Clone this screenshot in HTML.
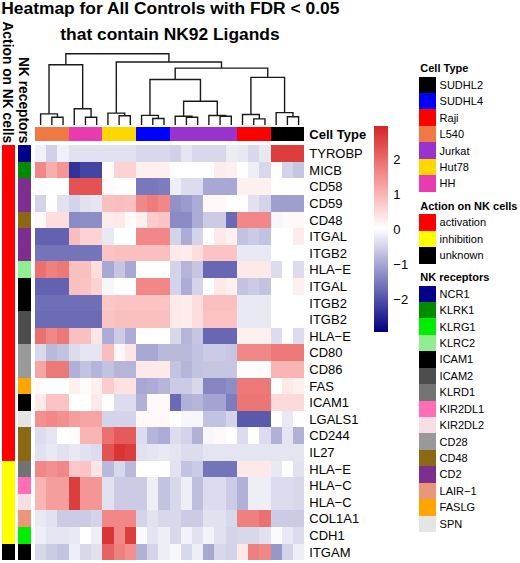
<!DOCTYPE html>
<html><head><meta charset="utf-8"><style>
html,body{margin:0;padding:0;background:#fff;}
svg{display:block;}
text{font-family:"Liberation Sans",sans-serif;fill:#000;}
.rl{font-size:13px;}
.ctl{font-size:13px;font-weight:bold;}
.cbl{font-size:13px;}
.lt{font-size:11px;font-weight:bold;}
.ll{font-size:11px;}
.tt{font-size:17.4px;font-weight:bold;}
.an{font-size:13.8px;font-weight:bold;}
</style></head><body>
<svg width="520" height="563" viewBox="0 0 520 563">
<rect width="520" height="563" fill="#fff"/>
<style>rect{shape-rendering:crispEdges;}</style>
<rect x="35.00" y="145.30" width="12.22" height="17.60" fill="#f0f0f8"/>
<rect x="46.22" y="145.30" width="12.22" height="17.60" fill="#d0d0e8"/>
<rect x="57.43" y="145.30" width="12.22" height="17.60" fill="#f0f0f8"/>
<rect x="68.65" y="145.30" width="12.22" height="17.60" fill="#e1e1f0"/>
<rect x="79.87" y="145.30" width="12.22" height="17.60" fill="#e1e1f0"/>
<rect x="91.08" y="145.30" width="12.22" height="17.60" fill="#e1e1f0"/>
<rect x="102.30" y="145.30" width="12.22" height="17.60" fill="#e1e1f0"/>
<rect x="113.52" y="145.30" width="12.22" height="17.60" fill="#e1e1f0"/>
<rect x="124.73" y="145.30" width="12.22" height="17.60" fill="#e1e1f0"/>
<rect x="135.95" y="145.30" width="12.22" height="17.60" fill="#d8d8eb"/>
<rect x="147.17" y="145.30" width="12.22" height="17.60" fill="#d8d8eb"/>
<rect x="158.38" y="145.30" width="12.22" height="17.60" fill="#d8d8eb"/>
<rect x="169.60" y="145.30" width="12.22" height="17.60" fill="#d0d0e8"/>
<rect x="180.82" y="145.30" width="12.22" height="17.60" fill="#e5e5f2"/>
<rect x="192.03" y="145.30" width="12.22" height="17.60" fill="#d8d8eb"/>
<rect x="203.25" y="145.30" width="12.22" height="17.60" fill="#d8d8eb"/>
<rect x="214.47" y="145.30" width="12.22" height="17.60" fill="#d8d8eb"/>
<rect x="225.68" y="145.30" width="12.22" height="17.60" fill="#ececf5"/>
<rect x="236.90" y="145.30" width="12.22" height="17.60" fill="#e8e8f3"/>
<rect x="248.12" y="145.30" width="12.22" height="17.60" fill="#d8d8eb"/>
<rect x="259.33" y="145.30" width="12.22" height="17.60" fill="#e8e8f3"/>
<rect x="270.55" y="145.30" width="12.22" height="17.60" fill="#dc3d3d"/>
<rect x="281.77" y="145.30" width="12.22" height="17.60" fill="#dc3d3d"/>
<rect x="292.98" y="145.30" width="11.22" height="17.60" fill="#dc3d3d"/>
<rect x="35.00" y="161.90" width="12.22" height="17.60" fill="#f18787"/>
<rect x="46.22" y="161.90" width="12.22" height="17.60" fill="#f8adad"/>
<rect x="57.43" y="161.90" width="12.22" height="17.60" fill="#f49696"/>
<rect x="68.65" y="161.90" width="12.22" height="17.60" fill="#323299"/>
<rect x="79.87" y="161.90" width="12.22" height="17.60" fill="#4444a2"/>
<rect x="91.08" y="161.90" width="12.22" height="17.60" fill="#4444a2"/>
<rect x="102.30" y="161.90" width="12.22" height="17.60" fill="#fffbfb"/>
<rect x="113.52" y="161.90" width="12.22" height="17.60" fill="#fdd2d2"/>
<rect x="124.73" y="161.90" width="12.22" height="17.60" fill="#fdd2d2"/>
<rect x="135.95" y="161.90" width="12.22" height="17.60" fill="#fff0f0"/>
<rect x="147.17" y="161.90" width="12.22" height="17.60" fill="#fff0f0"/>
<rect x="158.38" y="161.90" width="12.22" height="17.60" fill="#fff0f0"/>
<rect x="169.60" y="161.90" width="12.22" height="17.60" fill="#ffffff"/>
<rect x="180.82" y="161.90" width="12.22" height="17.60" fill="#ffffff"/>
<rect x="192.03" y="161.90" width="12.22" height="17.60" fill="#ffffff"/>
<rect x="203.25" y="161.90" width="12.22" height="17.60" fill="#ffffff"/>
<rect x="214.47" y="161.90" width="12.22" height="17.60" fill="#feecec"/>
<rect x="225.68" y="161.90" width="12.22" height="17.60" fill="#fff0f0"/>
<rect x="236.90" y="161.90" width="12.22" height="17.60" fill="#ffffff"/>
<rect x="248.12" y="161.90" width="12.22" height="17.60" fill="#eeeef6"/>
<rect x="259.33" y="161.90" width="12.22" height="17.60" fill="#d8d8eb"/>
<rect x="270.55" y="161.90" width="12.22" height="17.60" fill="#ffffff"/>
<rect x="281.77" y="161.90" width="12.22" height="17.60" fill="#d3d3e9"/>
<rect x="292.98" y="161.90" width="11.22" height="17.60" fill="#c6c6e3"/>
<rect x="35.00" y="178.49" width="12.22" height="17.60" fill="#ffffff"/>
<rect x="46.22" y="178.49" width="12.22" height="17.60" fill="#ffffff"/>
<rect x="57.43" y="178.49" width="12.22" height="17.60" fill="#ffffff"/>
<rect x="68.65" y="178.49" width="12.22" height="17.60" fill="#e35353"/>
<rect x="79.87" y="178.49" width="12.22" height="17.60" fill="#e35353"/>
<rect x="91.08" y="178.49" width="12.22" height="17.60" fill="#e35353"/>
<rect x="102.30" y="178.49" width="12.22" height="17.60" fill="#fffbfb"/>
<rect x="113.52" y="178.49" width="12.22" height="17.60" fill="#ffffff"/>
<rect x="124.73" y="178.49" width="12.22" height="17.60" fill="#ffffff"/>
<rect x="135.95" y="178.49" width="12.22" height="17.60" fill="#7878bc"/>
<rect x="147.17" y="178.49" width="12.22" height="17.60" fill="#7878bc"/>
<rect x="158.38" y="178.49" width="12.22" height="17.60" fill="#7c7cbe"/>
<rect x="169.60" y="178.49" width="12.22" height="17.60" fill="#eeeef6"/>
<rect x="180.82" y="178.49" width="12.22" height="17.60" fill="#dcdcee"/>
<rect x="192.03" y="178.49" width="12.22" height="17.60" fill="#dcdcee"/>
<rect x="203.25" y="178.49" width="12.22" height="17.60" fill="#a8a8d4"/>
<rect x="214.47" y="178.49" width="12.22" height="17.60" fill="#a8a8d4"/>
<rect x="225.68" y="178.49" width="12.22" height="17.60" fill="#a8a8d4"/>
<rect x="236.90" y="178.49" width="12.22" height="17.60" fill="#fff0f0"/>
<rect x="248.12" y="178.49" width="12.22" height="17.60" fill="#fff0f0"/>
<rect x="259.33" y="178.49" width="12.22" height="17.60" fill="#fff0f0"/>
<rect x="270.55" y="178.49" width="12.22" height="17.60" fill="#ffffff"/>
<rect x="281.77" y="178.49" width="12.22" height="17.60" fill="#ffffff"/>
<rect x="292.98" y="178.49" width="11.22" height="17.60" fill="#ffffff"/>
<rect x="35.00" y="195.09" width="12.22" height="17.60" fill="#d3d3e9"/>
<rect x="46.22" y="195.09" width="12.22" height="17.60" fill="#ffffff"/>
<rect x="57.43" y="195.09" width="12.22" height="17.60" fill="#e1e1f0"/>
<rect x="68.65" y="195.09" width="12.22" height="17.60" fill="#d3d3e9"/>
<rect x="79.87" y="195.09" width="12.22" height="17.60" fill="#e1e1f0"/>
<rect x="91.08" y="195.09" width="12.22" height="17.60" fill="#e5e5f2"/>
<rect x="102.30" y="195.09" width="12.22" height="17.60" fill="#fabfbf"/>
<rect x="113.52" y="195.09" width="12.22" height="17.60" fill="#fabcbc"/>
<rect x="124.73" y="195.09" width="12.22" height="17.60" fill="#fabfbf"/>
<rect x="135.95" y="195.09" width="12.22" height="17.60" fill="#f18787"/>
<rect x="147.17" y="195.09" width="12.22" height="17.60" fill="#ee7c7c"/>
<rect x="158.38" y="195.09" width="12.22" height="17.60" fill="#f18787"/>
<rect x="169.60" y="195.09" width="12.22" height="17.60" fill="#9292c9"/>
<rect x="180.82" y="195.09" width="12.22" height="17.60" fill="#9b9bcd"/>
<rect x="192.03" y="195.09" width="12.22" height="17.60" fill="#acacd6"/>
<rect x="203.25" y="195.09" width="12.22" height="17.60" fill="#fff8f8"/>
<rect x="214.47" y="195.09" width="12.22" height="17.60" fill="#fff8f8"/>
<rect x="225.68" y="195.09" width="12.22" height="17.60" fill="#ffffff"/>
<rect x="236.90" y="195.09" width="12.22" height="17.60" fill="#ffffff"/>
<rect x="248.12" y="195.09" width="12.22" height="17.60" fill="#e1e1f0"/>
<rect x="259.33" y="195.09" width="12.22" height="17.60" fill="#d3d3e9"/>
<rect x="270.55" y="195.09" width="12.22" height="17.60" fill="#9f9fcf"/>
<rect x="281.77" y="195.09" width="12.22" height="17.60" fill="#9f9fcf"/>
<rect x="292.98" y="195.09" width="11.22" height="17.60" fill="#9f9fcf"/>
<rect x="35.00" y="211.68" width="12.22" height="17.60" fill="#fff8f8"/>
<rect x="46.22" y="211.68" width="12.22" height="17.60" fill="#fedddd"/>
<rect x="57.43" y="211.68" width="12.22" height="17.60" fill="#fedddd"/>
<rect x="68.65" y="211.68" width="12.22" height="17.60" fill="#8a8ac4"/>
<rect x="79.87" y="211.68" width="12.22" height="17.60" fill="#8e8ec7"/>
<rect x="91.08" y="211.68" width="12.22" height="17.60" fill="#8e8ec7"/>
<rect x="102.30" y="211.68" width="12.22" height="17.60" fill="#feecec"/>
<rect x="113.52" y="211.68" width="12.22" height="17.60" fill="#fee9e9"/>
<rect x="124.73" y="211.68" width="12.22" height="17.60" fill="#fffbfb"/>
<rect x="135.95" y="211.68" width="12.22" height="17.60" fill="#fff0f0"/>
<rect x="147.17" y="211.68" width="12.22" height="17.60" fill="#fccbcb"/>
<rect x="158.38" y="211.68" width="12.22" height="17.60" fill="#fbc3c3"/>
<rect x="169.60" y="211.68" width="12.22" height="17.60" fill="#8a8ac4"/>
<rect x="180.82" y="211.68" width="12.22" height="17.60" fill="#8a8ac4"/>
<rect x="192.03" y="211.68" width="12.22" height="17.60" fill="#acacd6"/>
<rect x="203.25" y="211.68" width="12.22" height="17.60" fill="#cbcbe5"/>
<rect x="214.47" y="211.68" width="12.22" height="17.60" fill="#cbcbe5"/>
<rect x="225.68" y="211.68" width="12.22" height="17.60" fill="#6b6bb5"/>
<rect x="236.90" y="211.68" width="12.22" height="17.60" fill="#f18787"/>
<rect x="248.12" y="211.68" width="12.22" height="17.60" fill="#f18787"/>
<rect x="259.33" y="211.68" width="12.22" height="17.60" fill="#f18787"/>
<rect x="270.55" y="211.68" width="12.22" height="17.60" fill="#f6f6fb"/>
<rect x="281.77" y="211.68" width="12.22" height="17.60" fill="#fff8f8"/>
<rect x="292.98" y="211.68" width="11.22" height="17.60" fill="#fff8f8"/>
<rect x="35.00" y="228.28" width="12.22" height="17.60" fill="#6262b1"/>
<rect x="46.22" y="228.28" width="12.22" height="17.60" fill="#6262b1"/>
<rect x="57.43" y="228.28" width="12.22" height="17.60" fill="#6262b1"/>
<rect x="68.65" y="228.28" width="12.22" height="17.60" fill="#fabcbc"/>
<rect x="79.87" y="228.28" width="12.22" height="17.60" fill="#fdd2d2"/>
<rect x="91.08" y="228.28" width="12.22" height="17.60" fill="#fdd2d2"/>
<rect x="102.30" y="228.28" width="12.22" height="17.60" fill="#e9e9f4"/>
<rect x="113.52" y="228.28" width="12.22" height="17.60" fill="#ffffff"/>
<rect x="124.73" y="228.28" width="12.22" height="17.60" fill="#ffffff"/>
<rect x="135.95" y="228.28" width="12.22" height="17.60" fill="#f18787"/>
<rect x="147.17" y="228.28" width="12.22" height="17.60" fill="#f18787"/>
<rect x="158.38" y="228.28" width="12.22" height="17.60" fill="#f18787"/>
<rect x="169.60" y="228.28" width="12.22" height="17.60" fill="#d3d3e9"/>
<rect x="180.82" y="228.28" width="12.22" height="17.60" fill="#acacd6"/>
<rect x="192.03" y="228.28" width="12.22" height="17.60" fill="#d3d3e9"/>
<rect x="203.25" y="228.28" width="12.22" height="17.60" fill="#ffffff"/>
<rect x="214.47" y="228.28" width="12.22" height="17.60" fill="#fee9e9"/>
<rect x="225.68" y="228.28" width="12.22" height="17.60" fill="#fff0f0"/>
<rect x="236.90" y="228.28" width="12.22" height="17.60" fill="#c2c2e1"/>
<rect x="248.12" y="228.28" width="12.22" height="17.60" fill="#cbcbe5"/>
<rect x="259.33" y="228.28" width="12.22" height="17.60" fill="#c2c2e1"/>
<rect x="270.55" y="228.28" width="12.22" height="17.60" fill="#ffffff"/>
<rect x="281.77" y="228.28" width="12.22" height="17.60" fill="#ffffff"/>
<rect x="292.98" y="228.28" width="11.22" height="17.60" fill="#feecec"/>
<rect x="35.00" y="244.88" width="12.22" height="17.60" fill="#7474ba"/>
<rect x="46.22" y="244.88" width="12.22" height="17.60" fill="#7474ba"/>
<rect x="57.43" y="244.88" width="12.22" height="17.60" fill="#7474ba"/>
<rect x="68.65" y="244.88" width="12.22" height="17.60" fill="#7474ba"/>
<rect x="79.87" y="244.88" width="12.22" height="17.60" fill="#7474ba"/>
<rect x="91.08" y="244.88" width="12.22" height="17.60" fill="#7474ba"/>
<rect x="102.30" y="244.88" width="12.22" height="17.60" fill="#fbc3c3"/>
<rect x="113.52" y="244.88" width="12.22" height="17.60" fill="#fabfbf"/>
<rect x="124.73" y="244.88" width="12.22" height="17.60" fill="#fabfbf"/>
<rect x="135.95" y="244.88" width="12.22" height="17.60" fill="#fabfbf"/>
<rect x="147.17" y="244.88" width="12.22" height="17.60" fill="#fabfbf"/>
<rect x="158.38" y="244.88" width="12.22" height="17.60" fill="#fabfbf"/>
<rect x="169.60" y="244.88" width="12.22" height="17.60" fill="#fee9e9"/>
<rect x="180.82" y="244.88" width="12.22" height="17.60" fill="#feecec"/>
<rect x="192.03" y="244.88" width="12.22" height="17.60" fill="#fedddd"/>
<rect x="203.25" y="244.88" width="12.22" height="17.60" fill="#fbc3c3"/>
<rect x="214.47" y="244.88" width="12.22" height="17.60" fill="#fbc3c3"/>
<rect x="225.68" y="244.88" width="12.22" height="17.60" fill="#fbc3c3"/>
<rect x="236.90" y="244.88" width="12.22" height="17.60" fill="#e9e9f4"/>
<rect x="248.12" y="244.88" width="12.22" height="17.60" fill="#e9e9f4"/>
<rect x="259.33" y="244.88" width="12.22" height="17.60" fill="#e9e9f4"/>
<rect x="270.55" y="244.88" width="12.22" height="17.60" fill="#ffffff"/>
<rect x="281.77" y="244.88" width="12.22" height="17.60" fill="#ffffff"/>
<rect x="292.98" y="244.88" width="11.22" height="17.60" fill="#ffffff"/>
<rect x="35.00" y="261.47" width="12.22" height="17.60" fill="#eb7171"/>
<rect x="46.22" y="261.47" width="12.22" height="17.60" fill="#ef8080"/>
<rect x="57.43" y="261.47" width="12.22" height="17.60" fill="#ed7878"/>
<rect x="68.65" y="261.47" width="12.22" height="17.60" fill="#fabfbf"/>
<rect x="79.87" y="261.47" width="12.22" height="17.60" fill="#fabfbf"/>
<rect x="91.08" y="261.47" width="12.22" height="17.60" fill="#fedddd"/>
<rect x="102.30" y="261.47" width="12.22" height="17.60" fill="#a8a8d4"/>
<rect x="113.52" y="261.47" width="12.22" height="17.60" fill="#c6c6e3"/>
<rect x="124.73" y="261.47" width="12.22" height="17.60" fill="#a8a8d4"/>
<rect x="135.95" y="261.47" width="12.22" height="17.60" fill="#ffffff"/>
<rect x="147.17" y="261.47" width="12.22" height="17.60" fill="#ffffff"/>
<rect x="158.38" y="261.47" width="12.22" height="17.60" fill="#ffffff"/>
<rect x="169.60" y="261.47" width="12.22" height="17.60" fill="#d3d3e9"/>
<rect x="180.82" y="261.47" width="12.22" height="17.60" fill="#b5b5da"/>
<rect x="192.03" y="261.47" width="12.22" height="17.60" fill="#c6c6e3"/>
<rect x="203.25" y="261.47" width="12.22" height="17.60" fill="#6767b3"/>
<rect x="214.47" y="261.47" width="12.22" height="17.60" fill="#6767b3"/>
<rect x="225.68" y="261.47" width="12.22" height="17.60" fill="#6767b3"/>
<rect x="236.90" y="261.47" width="12.22" height="17.60" fill="#fee9e9"/>
<rect x="248.12" y="261.47" width="12.22" height="17.60" fill="#fee9e9"/>
<rect x="259.33" y="261.47" width="12.22" height="17.60" fill="#fee9e9"/>
<rect x="270.55" y="261.47" width="12.22" height="17.60" fill="#dcdcee"/>
<rect x="281.77" y="261.47" width="12.22" height="17.60" fill="#ffffff"/>
<rect x="292.98" y="261.47" width="11.22" height="17.60" fill="#dcdcee"/>
<rect x="35.00" y="278.07" width="12.22" height="17.60" fill="#6262b1"/>
<rect x="46.22" y="278.07" width="12.22" height="17.60" fill="#6262b1"/>
<rect x="57.43" y="278.07" width="12.22" height="17.60" fill="#6262b1"/>
<rect x="68.65" y="278.07" width="12.22" height="17.60" fill="#fabfbf"/>
<rect x="79.87" y="278.07" width="12.22" height="17.60" fill="#fbc3c3"/>
<rect x="91.08" y="278.07" width="12.22" height="17.60" fill="#fdd2d2"/>
<rect x="102.30" y="278.07" width="12.22" height="17.60" fill="#f6f6fb"/>
<rect x="113.52" y="278.07" width="12.22" height="17.60" fill="#ffffff"/>
<rect x="124.73" y="278.07" width="12.22" height="17.60" fill="#ffffff"/>
<rect x="135.95" y="278.07" width="12.22" height="17.60" fill="#f18787"/>
<rect x="147.17" y="278.07" width="12.22" height="17.60" fill="#f18787"/>
<rect x="158.38" y="278.07" width="12.22" height="17.60" fill="#f18787"/>
<rect x="169.60" y="278.07" width="12.22" height="17.60" fill="#d3d3e9"/>
<rect x="180.82" y="278.07" width="12.22" height="17.60" fill="#acacd6"/>
<rect x="192.03" y="278.07" width="12.22" height="17.60" fill="#d3d3e9"/>
<rect x="203.25" y="278.07" width="12.22" height="17.60" fill="#ffffff"/>
<rect x="214.47" y="278.07" width="12.22" height="17.60" fill="#fee9e9"/>
<rect x="225.68" y="278.07" width="12.22" height="17.60" fill="#fff0f0"/>
<rect x="236.90" y="278.07" width="12.22" height="17.60" fill="#c2c2e1"/>
<rect x="248.12" y="278.07" width="12.22" height="17.60" fill="#cbcbe5"/>
<rect x="259.33" y="278.07" width="12.22" height="17.60" fill="#c2c2e1"/>
<rect x="270.55" y="278.07" width="12.22" height="17.60" fill="#ffffff"/>
<rect x="281.77" y="278.07" width="12.22" height="17.60" fill="#ffffff"/>
<rect x="292.98" y="278.07" width="11.22" height="17.60" fill="#fff0f0"/>
<rect x="35.00" y="294.66" width="12.22" height="17.60" fill="#6f6fb7"/>
<rect x="46.22" y="294.66" width="12.22" height="17.60" fill="#6f6fb7"/>
<rect x="57.43" y="294.66" width="12.22" height="17.60" fill="#6f6fb7"/>
<rect x="68.65" y="294.66" width="12.22" height="17.60" fill="#6f6fb7"/>
<rect x="79.87" y="294.66" width="12.22" height="17.60" fill="#6f6fb7"/>
<rect x="91.08" y="294.66" width="12.22" height="17.60" fill="#6f6fb7"/>
<rect x="102.30" y="294.66" width="12.22" height="17.60" fill="#fbc7c7"/>
<rect x="113.52" y="294.66" width="12.22" height="17.60" fill="#fbc3c3"/>
<rect x="124.73" y="294.66" width="12.22" height="17.60" fill="#fbc3c3"/>
<rect x="135.95" y="294.66" width="12.22" height="17.60" fill="#fbc3c3"/>
<rect x="147.17" y="294.66" width="12.22" height="17.60" fill="#fbc3c3"/>
<rect x="158.38" y="294.66" width="12.22" height="17.60" fill="#fbc3c3"/>
<rect x="169.60" y="294.66" width="12.22" height="17.60" fill="#fee9e9"/>
<rect x="180.82" y="294.66" width="12.22" height="17.60" fill="#feecec"/>
<rect x="192.03" y="294.66" width="12.22" height="17.60" fill="#fedddd"/>
<rect x="203.25" y="294.66" width="12.22" height="17.60" fill="#fabfbf"/>
<rect x="214.47" y="294.66" width="12.22" height="17.60" fill="#fabfbf"/>
<rect x="225.68" y="294.66" width="12.22" height="17.60" fill="#fabfbf"/>
<rect x="236.90" y="294.66" width="12.22" height="17.60" fill="#e9e9f4"/>
<rect x="248.12" y="294.66" width="12.22" height="17.60" fill="#e9e9f4"/>
<rect x="259.33" y="294.66" width="12.22" height="17.60" fill="#e9e9f4"/>
<rect x="270.55" y="294.66" width="12.22" height="17.60" fill="#ffffff"/>
<rect x="281.77" y="294.66" width="12.22" height="17.60" fill="#ffffff"/>
<rect x="292.98" y="294.66" width="11.22" height="17.60" fill="#ffffff"/>
<rect x="35.00" y="311.26" width="12.22" height="17.60" fill="#6b6bb5"/>
<rect x="46.22" y="311.26" width="12.22" height="17.60" fill="#6b6bb5"/>
<rect x="57.43" y="311.26" width="12.22" height="17.60" fill="#6b6bb5"/>
<rect x="68.65" y="311.26" width="12.22" height="17.60" fill="#6b6bb5"/>
<rect x="79.87" y="311.26" width="12.22" height="17.60" fill="#6b6bb5"/>
<rect x="91.08" y="311.26" width="12.22" height="17.60" fill="#6b6bb5"/>
<rect x="102.30" y="311.26" width="12.22" height="17.60" fill="#fbc3c3"/>
<rect x="113.52" y="311.26" width="12.22" height="17.60" fill="#fabfbf"/>
<rect x="124.73" y="311.26" width="12.22" height="17.60" fill="#fabfbf"/>
<rect x="135.95" y="311.26" width="12.22" height="17.60" fill="#fabfbf"/>
<rect x="147.17" y="311.26" width="12.22" height="17.60" fill="#fabfbf"/>
<rect x="158.38" y="311.26" width="12.22" height="17.60" fill="#fabfbf"/>
<rect x="169.60" y="311.26" width="12.22" height="17.60" fill="#fee9e9"/>
<rect x="180.82" y="311.26" width="12.22" height="17.60" fill="#feecec"/>
<rect x="192.03" y="311.26" width="12.22" height="17.60" fill="#fedddd"/>
<rect x="203.25" y="311.26" width="12.22" height="17.60" fill="#fbc3c3"/>
<rect x="214.47" y="311.26" width="12.22" height="17.60" fill="#fbc3c3"/>
<rect x="225.68" y="311.26" width="12.22" height="17.60" fill="#fbc3c3"/>
<rect x="236.90" y="311.26" width="12.22" height="17.60" fill="#e9e9f4"/>
<rect x="248.12" y="311.26" width="12.22" height="17.60" fill="#e9e9f4"/>
<rect x="259.33" y="311.26" width="12.22" height="17.60" fill="#e9e9f4"/>
<rect x="270.55" y="311.26" width="12.22" height="17.60" fill="#ffffff"/>
<rect x="281.77" y="311.26" width="12.22" height="17.60" fill="#ffffff"/>
<rect x="292.98" y="311.26" width="11.22" height="17.60" fill="#ffffff"/>
<rect x="35.00" y="327.86" width="12.22" height="17.60" fill="#eb7171"/>
<rect x="46.22" y="327.86" width="12.22" height="17.60" fill="#f18787"/>
<rect x="57.43" y="327.86" width="12.22" height="17.60" fill="#ed7878"/>
<rect x="68.65" y="327.86" width="12.22" height="17.60" fill="#fabfbf"/>
<rect x="79.87" y="327.86" width="12.22" height="17.60" fill="#fabfbf"/>
<rect x="91.08" y="327.86" width="12.22" height="17.60" fill="#fee5e5"/>
<rect x="102.30" y="327.86" width="12.22" height="17.60" fill="#acacd6"/>
<rect x="113.52" y="327.86" width="12.22" height="17.60" fill="#cbcbe5"/>
<rect x="124.73" y="327.86" width="12.22" height="17.60" fill="#acacd6"/>
<rect x="135.95" y="327.86" width="12.22" height="17.60" fill="#ffffff"/>
<rect x="147.17" y="327.86" width="12.22" height="17.60" fill="#ffffff"/>
<rect x="158.38" y="327.86" width="12.22" height="17.60" fill="#ffffff"/>
<rect x="169.60" y="327.86" width="12.22" height="17.60" fill="#d8d8eb"/>
<rect x="180.82" y="327.86" width="12.22" height="17.60" fill="#b5b5da"/>
<rect x="192.03" y="327.86" width="12.22" height="17.60" fill="#c6c6e3"/>
<rect x="203.25" y="327.86" width="12.22" height="17.60" fill="#6767b3"/>
<rect x="214.47" y="327.86" width="12.22" height="17.60" fill="#6767b3"/>
<rect x="225.68" y="327.86" width="12.22" height="17.60" fill="#6767b3"/>
<rect x="236.90" y="327.86" width="12.22" height="17.60" fill="#fff0f0"/>
<rect x="248.12" y="327.86" width="12.22" height="17.60" fill="#fff0f0"/>
<rect x="259.33" y="327.86" width="12.22" height="17.60" fill="#fff0f0"/>
<rect x="270.55" y="327.86" width="12.22" height="17.60" fill="#dcdcee"/>
<rect x="281.77" y="327.86" width="12.22" height="17.60" fill="#ffffff"/>
<rect x="292.98" y="327.86" width="11.22" height="17.60" fill="#dcdcee"/>
<rect x="35.00" y="344.45" width="12.22" height="17.60" fill="#d8d8eb"/>
<rect x="46.22" y="344.45" width="12.22" height="17.60" fill="#b9b9dc"/>
<rect x="57.43" y="344.45" width="12.22" height="17.60" fill="#c2c2e1"/>
<rect x="68.65" y="344.45" width="12.22" height="17.60" fill="#dcdcee"/>
<rect x="79.87" y="344.45" width="12.22" height="17.60" fill="#e5e5f2"/>
<rect x="91.08" y="344.45" width="12.22" height="17.60" fill="#e5e5f2"/>
<rect x="102.30" y="344.45" width="12.22" height="17.60" fill="#fabcbc"/>
<rect x="113.52" y="344.45" width="12.22" height="17.60" fill="#fff8f8"/>
<rect x="124.73" y="344.45" width="12.22" height="17.60" fill="#fee5e5"/>
<rect x="135.95" y="344.45" width="12.22" height="17.60" fill="#a8a8d4"/>
<rect x="147.17" y="344.45" width="12.22" height="17.60" fill="#a8a8d4"/>
<rect x="158.38" y="344.45" width="12.22" height="17.60" fill="#b9b9dc"/>
<rect x="169.60" y="344.45" width="12.22" height="17.60" fill="#b9b9dc"/>
<rect x="180.82" y="344.45" width="12.22" height="17.60" fill="#b9b9dc"/>
<rect x="192.03" y="344.45" width="12.22" height="17.60" fill="#c2c2e1"/>
<rect x="203.25" y="344.45" width="12.22" height="17.60" fill="#cbcbe5"/>
<rect x="214.47" y="344.45" width="12.22" height="17.60" fill="#cbcbe5"/>
<rect x="225.68" y="344.45" width="12.22" height="17.60" fill="#c6c6e3"/>
<rect x="236.90" y="344.45" width="12.22" height="17.60" fill="#f18787"/>
<rect x="248.12" y="344.45" width="12.22" height="17.60" fill="#f18787"/>
<rect x="259.33" y="344.45" width="12.22" height="17.60" fill="#f18787"/>
<rect x="270.55" y="344.45" width="12.22" height="17.60" fill="#ed7878"/>
<rect x="281.77" y="344.45" width="12.22" height="17.60" fill="#ed7878"/>
<rect x="292.98" y="344.45" width="11.22" height="17.60" fill="#ed7878"/>
<rect x="35.00" y="361.05" width="12.22" height="17.60" fill="#f6a5a5"/>
<rect x="46.22" y="361.05" width="12.22" height="17.60" fill="#ed7878"/>
<rect x="57.43" y="361.05" width="12.22" height="17.60" fill="#ed7878"/>
<rect x="68.65" y="361.05" width="12.22" height="17.60" fill="#b1b1d8"/>
<rect x="79.87" y="361.05" width="12.22" height="17.60" fill="#c2c2e1"/>
<rect x="91.08" y="361.05" width="12.22" height="17.60" fill="#b5b5da"/>
<rect x="102.30" y="361.05" width="12.22" height="17.60" fill="#c2c2e1"/>
<rect x="113.52" y="361.05" width="12.22" height="17.60" fill="#b5b5da"/>
<rect x="124.73" y="361.05" width="12.22" height="17.60" fill="#b5b5da"/>
<rect x="135.95" y="361.05" width="12.22" height="17.60" fill="#fee9e9"/>
<rect x="147.17" y="361.05" width="12.22" height="17.60" fill="#fee9e9"/>
<rect x="158.38" y="361.05" width="12.22" height="17.60" fill="#fee9e9"/>
<rect x="169.60" y="361.05" width="12.22" height="17.60" fill="#c2c2e1"/>
<rect x="180.82" y="361.05" width="12.22" height="17.60" fill="#b5b5da"/>
<rect x="192.03" y="361.05" width="12.22" height="17.60" fill="#c2c2e1"/>
<rect x="203.25" y="361.05" width="12.22" height="17.60" fill="#c6c6e3"/>
<rect x="214.47" y="361.05" width="12.22" height="17.60" fill="#c6c6e3"/>
<rect x="225.68" y="361.05" width="12.22" height="17.60" fill="#c6c6e3"/>
<rect x="236.90" y="361.05" width="12.22" height="17.60" fill="#fffbfb"/>
<rect x="248.12" y="361.05" width="12.22" height="17.60" fill="#fffbfb"/>
<rect x="259.33" y="361.05" width="12.22" height="17.60" fill="#fffbfb"/>
<rect x="270.55" y="361.05" width="12.22" height="17.60" fill="#f9b4b4"/>
<rect x="281.77" y="361.05" width="12.22" height="17.60" fill="#f9b4b4"/>
<rect x="292.98" y="361.05" width="11.22" height="17.60" fill="#f9b4b4"/>
<rect x="35.00" y="377.64" width="12.22" height="17.60" fill="#fffbfb"/>
<rect x="46.22" y="377.64" width="12.22" height="17.60" fill="#ffffff"/>
<rect x="57.43" y="377.64" width="12.22" height="17.60" fill="#ffffff"/>
<rect x="68.65" y="377.64" width="12.22" height="17.60" fill="#fff0f0"/>
<rect x="79.87" y="377.64" width="12.22" height="17.60" fill="#fffbfb"/>
<rect x="91.08" y="377.64" width="12.22" height="17.60" fill="#fff0f0"/>
<rect x="102.30" y="377.64" width="12.22" height="17.60" fill="#fccbcb"/>
<rect x="113.52" y="377.64" width="12.22" height="17.60" fill="#fee1e1"/>
<rect x="124.73" y="377.64" width="12.22" height="17.60" fill="#fee1e1"/>
<rect x="135.95" y="377.64" width="12.22" height="17.60" fill="#a8a8d4"/>
<rect x="147.17" y="377.64" width="12.22" height="17.60" fill="#acacd6"/>
<rect x="158.38" y="377.64" width="12.22" height="17.60" fill="#b5b5da"/>
<rect x="169.60" y="377.64" width="12.22" height="17.60" fill="#cbcbe5"/>
<rect x="180.82" y="377.64" width="12.22" height="17.60" fill="#cbcbe5"/>
<rect x="192.03" y="377.64" width="12.22" height="17.60" fill="#d8d8eb"/>
<rect x="203.25" y="377.64" width="12.22" height="17.60" fill="#8585c2"/>
<rect x="214.47" y="377.64" width="12.22" height="17.60" fill="#8585c2"/>
<rect x="225.68" y="377.64" width="12.22" height="17.60" fill="#8e8ec7"/>
<rect x="236.90" y="377.64" width="12.22" height="17.60" fill="#ed7878"/>
<rect x="248.12" y="377.64" width="12.22" height="17.60" fill="#ed7878"/>
<rect x="259.33" y="377.64" width="12.22" height="17.60" fill="#ed7878"/>
<rect x="270.55" y="377.64" width="12.22" height="17.60" fill="#ffffff"/>
<rect x="281.77" y="377.64" width="12.22" height="17.60" fill="#fee9e9"/>
<rect x="292.98" y="377.64" width="11.22" height="17.60" fill="#fff0f0"/>
<rect x="35.00" y="394.24" width="12.22" height="17.60" fill="#fee9e9"/>
<rect x="46.22" y="394.24" width="12.22" height="17.60" fill="#fbc3c3"/>
<rect x="57.43" y="394.24" width="12.22" height="17.60" fill="#fbc3c3"/>
<rect x="68.65" y="394.24" width="12.22" height="17.60" fill="#ffffff"/>
<rect x="79.87" y="394.24" width="12.22" height="17.60" fill="#ffffff"/>
<rect x="91.08" y="394.24" width="12.22" height="17.60" fill="#fee9e9"/>
<rect x="102.30" y="394.24" width="12.22" height="17.60" fill="#ffffff"/>
<rect x="113.52" y="394.24" width="12.22" height="17.60" fill="#dcdcee"/>
<rect x="124.73" y="394.24" width="12.22" height="17.60" fill="#dcdcee"/>
<rect x="135.95" y="394.24" width="12.22" height="17.60" fill="#b1b1d8"/>
<rect x="147.17" y="394.24" width="12.22" height="17.60" fill="#fff8f8"/>
<rect x="158.38" y="394.24" width="12.22" height="17.60" fill="#fff8f8"/>
<rect x="169.60" y="394.24" width="12.22" height="17.60" fill="#6b6bb5"/>
<rect x="180.82" y="394.24" width="12.22" height="17.60" fill="#b1b1d8"/>
<rect x="192.03" y="394.24" width="12.22" height="17.60" fill="#b5b5da"/>
<rect x="203.25" y="394.24" width="12.22" height="17.60" fill="#a4a4d1"/>
<rect x="214.47" y="394.24" width="12.22" height="17.60" fill="#a4a4d1"/>
<rect x="225.68" y="394.24" width="12.22" height="17.60" fill="#7c7cbe"/>
<rect x="236.90" y="394.24" width="12.22" height="17.60" fill="#ec7575"/>
<rect x="248.12" y="394.24" width="12.22" height="17.60" fill="#ec7575"/>
<rect x="259.33" y="394.24" width="12.22" height="17.60" fill="#ec7575"/>
<rect x="270.55" y="394.24" width="12.22" height="17.60" fill="#fddada"/>
<rect x="281.77" y="394.24" width="12.22" height="17.60" fill="#fddada"/>
<rect x="292.98" y="394.24" width="11.22" height="17.60" fill="#fddada"/>
<rect x="35.00" y="410.84" width="12.22" height="17.60" fill="#f28f8f"/>
<rect x="46.22" y="410.84" width="12.22" height="17.60" fill="#f18787"/>
<rect x="57.43" y="410.84" width="12.22" height="17.60" fill="#f28f8f"/>
<rect x="68.65" y="410.84" width="12.22" height="17.60" fill="#f59e9e"/>
<rect x="79.87" y="410.84" width="12.22" height="17.60" fill="#f6a5a5"/>
<rect x="91.08" y="410.84" width="12.22" height="17.60" fill="#f6a5a5"/>
<rect x="102.30" y="410.84" width="12.22" height="17.60" fill="#d3d3e9"/>
<rect x="113.52" y="410.84" width="12.22" height="17.60" fill="#d3d3e9"/>
<rect x="124.73" y="410.84" width="12.22" height="17.60" fill="#d3d3e9"/>
<rect x="135.95" y="410.84" width="12.22" height="17.60" fill="#fff8f8"/>
<rect x="147.17" y="410.84" width="12.22" height="17.60" fill="#fff8f8"/>
<rect x="158.38" y="410.84" width="12.22" height="17.60" fill="#fff8f8"/>
<rect x="169.60" y="410.84" width="12.22" height="17.60" fill="#ffffff"/>
<rect x="180.82" y="410.84" width="12.22" height="17.60" fill="#f6f6fb"/>
<rect x="192.03" y="410.84" width="12.22" height="17.60" fill="#f6f6fb"/>
<rect x="203.25" y="410.84" width="12.22" height="17.60" fill="#c2c2e1"/>
<rect x="214.47" y="410.84" width="12.22" height="17.60" fill="#c2c2e1"/>
<rect x="225.68" y="410.84" width="12.22" height="17.60" fill="#d3d3e9"/>
<rect x="236.90" y="410.84" width="12.22" height="17.60" fill="#5a5aad"/>
<rect x="248.12" y="410.84" width="12.22" height="17.60" fill="#5a5aad"/>
<rect x="259.33" y="410.84" width="12.22" height="17.60" fill="#5a5aad"/>
<rect x="270.55" y="410.84" width="12.22" height="17.60" fill="#ffffff"/>
<rect x="281.77" y="410.84" width="12.22" height="17.60" fill="#e9e9f4"/>
<rect x="292.98" y="410.84" width="11.22" height="17.60" fill="#ffffff"/>
<rect x="35.00" y="427.43" width="12.22" height="17.60" fill="#dcdcee"/>
<rect x="46.22" y="427.43" width="12.22" height="17.60" fill="#e5e5f2"/>
<rect x="57.43" y="427.43" width="12.22" height="17.60" fill="#ffffff"/>
<rect x="68.65" y="427.43" width="12.22" height="17.60" fill="#fffbfb"/>
<rect x="79.87" y="427.43" width="12.22" height="17.60" fill="#f9b4b4"/>
<rect x="91.08" y="427.43" width="12.22" height="17.60" fill="#f9b4b4"/>
<rect x="102.30" y="427.43" width="12.22" height="17.60" fill="#eb7171"/>
<rect x="113.52" y="427.43" width="12.22" height="17.60" fill="#e55b5b"/>
<rect x="124.73" y="427.43" width="12.22" height="17.60" fill="#e55b5b"/>
<rect x="135.95" y="427.43" width="12.22" height="17.60" fill="#dcdcee"/>
<rect x="147.17" y="427.43" width="12.22" height="17.60" fill="#b5b5da"/>
<rect x="158.38" y="427.43" width="12.22" height="17.60" fill="#acacd6"/>
<rect x="169.60" y="427.43" width="12.22" height="17.60" fill="#dcdcee"/>
<rect x="180.82" y="427.43" width="12.22" height="17.60" fill="#d3d3e9"/>
<rect x="192.03" y="427.43" width="12.22" height="17.60" fill="#b1b1d8"/>
<rect x="203.25" y="427.43" width="12.22" height="17.60" fill="#f6f6fb"/>
<rect x="214.47" y="427.43" width="12.22" height="17.60" fill="#fff8f8"/>
<rect x="225.68" y="427.43" width="12.22" height="17.60" fill="#ffffff"/>
<rect x="236.90" y="427.43" width="12.22" height="17.60" fill="#dcdcee"/>
<rect x="248.12" y="427.43" width="12.22" height="17.60" fill="#ffffff"/>
<rect x="259.33" y="427.43" width="12.22" height="17.60" fill="#dcdcee"/>
<rect x="270.55" y="427.43" width="12.22" height="17.60" fill="#b1b1d8"/>
<rect x="281.77" y="427.43" width="12.22" height="17.60" fill="#e5e5f2"/>
<rect x="292.98" y="427.43" width="11.22" height="17.60" fill="#b1b1d8"/>
<rect x="35.00" y="444.03" width="12.22" height="17.60" fill="#e1e1f0"/>
<rect x="46.22" y="444.03" width="12.22" height="17.60" fill="#e9e9f4"/>
<rect x="57.43" y="444.03" width="12.22" height="17.60" fill="#e1e1f0"/>
<rect x="68.65" y="444.03" width="12.22" height="17.60" fill="#e9e9f4"/>
<rect x="79.87" y="444.03" width="12.22" height="17.60" fill="#e1e1f0"/>
<rect x="91.08" y="444.03" width="12.22" height="17.60" fill="#dcdcee"/>
<rect x="102.30" y="444.03" width="12.22" height="17.60" fill="#e35353"/>
<rect x="113.52" y="444.03" width="12.22" height="17.60" fill="#da3535"/>
<rect x="124.73" y="444.03" width="12.22" height="17.60" fill="#dc3d3d"/>
<rect x="135.95" y="444.03" width="12.22" height="17.60" fill="#e1e1f0"/>
<rect x="147.17" y="444.03" width="12.22" height="17.60" fill="#e5e5f2"/>
<rect x="158.38" y="444.03" width="12.22" height="17.60" fill="#e9e9f4"/>
<rect x="169.60" y="444.03" width="12.22" height="17.60" fill="#e5e5f2"/>
<rect x="180.82" y="444.03" width="12.22" height="17.60" fill="#dcdcee"/>
<rect x="192.03" y="444.03" width="12.22" height="17.60" fill="#dcdcee"/>
<rect x="203.25" y="444.03" width="12.22" height="17.60" fill="#e5e5f2"/>
<rect x="214.47" y="444.03" width="12.22" height="17.60" fill="#e5e5f2"/>
<rect x="225.68" y="444.03" width="12.22" height="17.60" fill="#e5e5f2"/>
<rect x="236.90" y="444.03" width="12.22" height="17.60" fill="#e5e5f2"/>
<rect x="248.12" y="444.03" width="12.22" height="17.60" fill="#e5e5f2"/>
<rect x="259.33" y="444.03" width="12.22" height="17.60" fill="#e5e5f2"/>
<rect x="270.55" y="444.03" width="12.22" height="17.60" fill="#e5e5f2"/>
<rect x="281.77" y="444.03" width="12.22" height="17.60" fill="#e5e5f2"/>
<rect x="292.98" y="444.03" width="11.22" height="17.60" fill="#e5e5f2"/>
<rect x="35.00" y="460.62" width="12.22" height="17.60" fill="#f18787"/>
<rect x="46.22" y="460.62" width="12.22" height="17.60" fill="#f28f8f"/>
<rect x="57.43" y="460.62" width="12.22" height="17.60" fill="#f18787"/>
<rect x="68.65" y="460.62" width="12.22" height="17.60" fill="#fbc7c7"/>
<rect x="79.87" y="460.62" width="12.22" height="17.60" fill="#fbc3c3"/>
<rect x="91.08" y="460.62" width="12.22" height="17.60" fill="#fee5e5"/>
<rect x="102.30" y="460.62" width="12.22" height="17.60" fill="#b9b9dc"/>
<rect x="113.52" y="460.62" width="12.22" height="17.60" fill="#d8d8eb"/>
<rect x="124.73" y="460.62" width="12.22" height="17.60" fill="#b9b9dc"/>
<rect x="135.95" y="460.62" width="12.22" height="17.60" fill="#ffffff"/>
<rect x="147.17" y="460.62" width="12.22" height="17.60" fill="#ffffff"/>
<rect x="158.38" y="460.62" width="12.22" height="17.60" fill="#ffffff"/>
<rect x="169.60" y="460.62" width="12.22" height="17.60" fill="#e1e1f0"/>
<rect x="180.82" y="460.62" width="12.22" height="17.60" fill="#c2c2e1"/>
<rect x="192.03" y="460.62" width="12.22" height="17.60" fill="#cbcbe5"/>
<rect x="203.25" y="460.62" width="12.22" height="17.60" fill="#7474ba"/>
<rect x="214.47" y="460.62" width="12.22" height="17.60" fill="#7474ba"/>
<rect x="225.68" y="460.62" width="12.22" height="17.60" fill="#7474ba"/>
<rect x="236.90" y="460.62" width="12.22" height="17.60" fill="#fee9e9"/>
<rect x="248.12" y="460.62" width="12.22" height="17.60" fill="#fee9e9"/>
<rect x="259.33" y="460.62" width="12.22" height="17.60" fill="#fee9e9"/>
<rect x="270.55" y="460.62" width="12.22" height="17.60" fill="#e9e9f4"/>
<rect x="281.77" y="460.62" width="12.22" height="17.60" fill="#ffffff"/>
<rect x="292.98" y="460.62" width="11.22" height="17.60" fill="#e1e1f0"/>
<rect x="35.00" y="477.22" width="12.22" height="17.60" fill="#f9b4b4"/>
<rect x="46.22" y="477.22" width="12.22" height="17.60" fill="#f59e9e"/>
<rect x="57.43" y="477.22" width="12.22" height="17.60" fill="#f59e9e"/>
<rect x="68.65" y="477.22" width="12.22" height="17.60" fill="#dc3d3d"/>
<rect x="79.87" y="477.22" width="12.22" height="17.60" fill="#f49696"/>
<rect x="91.08" y="477.22" width="12.22" height="17.60" fill="#f49696"/>
<rect x="102.30" y="477.22" width="12.22" height="17.60" fill="#e1e1f0"/>
<rect x="113.52" y="477.22" width="12.22" height="17.60" fill="#cbcbe5"/>
<rect x="124.73" y="477.22" width="12.22" height="17.60" fill="#cbcbe5"/>
<rect x="135.95" y="477.22" width="12.22" height="17.60" fill="#cbcbe5"/>
<rect x="147.17" y="477.22" width="12.22" height="17.60" fill="#eeeef6"/>
<rect x="158.38" y="477.22" width="12.22" height="17.60" fill="#c2c2e1"/>
<rect x="169.60" y="477.22" width="12.22" height="17.60" fill="#d8d8eb"/>
<rect x="180.82" y="477.22" width="12.22" height="17.60" fill="#eeeef6"/>
<rect x="192.03" y="477.22" width="12.22" height="17.60" fill="#bebede"/>
<rect x="203.25" y="477.22" width="12.22" height="17.60" fill="#dcdcee"/>
<rect x="214.47" y="477.22" width="12.22" height="17.60" fill="#dcdcee"/>
<rect x="225.68" y="477.22" width="12.22" height="17.60" fill="#cbcbe5"/>
<rect x="236.90" y="477.22" width="12.22" height="17.60" fill="#b1b1d8"/>
<rect x="248.12" y="477.22" width="12.22" height="17.60" fill="#eeeef6"/>
<rect x="259.33" y="477.22" width="12.22" height="17.60" fill="#eeeef6"/>
<rect x="270.55" y="477.22" width="12.22" height="17.60" fill="#dcdcee"/>
<rect x="281.77" y="477.22" width="12.22" height="17.60" fill="#dcdcee"/>
<rect x="292.98" y="477.22" width="11.22" height="17.60" fill="#d8d8eb"/>
<rect x="35.00" y="493.82" width="12.22" height="17.60" fill="#f9b4b4"/>
<rect x="46.22" y="493.82" width="12.22" height="17.60" fill="#f59e9e"/>
<rect x="57.43" y="493.82" width="12.22" height="17.60" fill="#f59e9e"/>
<rect x="68.65" y="493.82" width="12.22" height="17.60" fill="#dc3d3d"/>
<rect x="79.87" y="493.82" width="12.22" height="17.60" fill="#f49696"/>
<rect x="91.08" y="493.82" width="12.22" height="17.60" fill="#f49696"/>
<rect x="102.30" y="493.82" width="12.22" height="17.60" fill="#e1e1f0"/>
<rect x="113.52" y="493.82" width="12.22" height="17.60" fill="#cbcbe5"/>
<rect x="124.73" y="493.82" width="12.22" height="17.60" fill="#cbcbe5"/>
<rect x="135.95" y="493.82" width="12.22" height="17.60" fill="#cbcbe5"/>
<rect x="147.17" y="493.82" width="12.22" height="17.60" fill="#eeeef6"/>
<rect x="158.38" y="493.82" width="12.22" height="17.60" fill="#c2c2e1"/>
<rect x="169.60" y="493.82" width="12.22" height="17.60" fill="#d8d8eb"/>
<rect x="180.82" y="493.82" width="12.22" height="17.60" fill="#eeeef6"/>
<rect x="192.03" y="493.82" width="12.22" height="17.60" fill="#bebede"/>
<rect x="203.25" y="493.82" width="12.22" height="17.60" fill="#dcdcee"/>
<rect x="214.47" y="493.82" width="12.22" height="17.60" fill="#dcdcee"/>
<rect x="225.68" y="493.82" width="12.22" height="17.60" fill="#cbcbe5"/>
<rect x="236.90" y="493.82" width="12.22" height="17.60" fill="#b1b1d8"/>
<rect x="248.12" y="493.82" width="12.22" height="17.60" fill="#eeeef6"/>
<rect x="259.33" y="493.82" width="12.22" height="17.60" fill="#eeeef6"/>
<rect x="270.55" y="493.82" width="12.22" height="17.60" fill="#dcdcee"/>
<rect x="281.77" y="493.82" width="12.22" height="17.60" fill="#dcdcee"/>
<rect x="292.98" y="493.82" width="11.22" height="17.60" fill="#d8d8eb"/>
<rect x="35.00" y="510.41" width="12.22" height="17.60" fill="#e9e9f4"/>
<rect x="46.22" y="510.41" width="12.22" height="17.60" fill="#e1e1f0"/>
<rect x="57.43" y="510.41" width="12.22" height="17.60" fill="#cbcbe5"/>
<rect x="68.65" y="510.41" width="12.22" height="17.60" fill="#cbcbe5"/>
<rect x="79.87" y="510.41" width="12.22" height="17.60" fill="#cbcbe5"/>
<rect x="91.08" y="510.41" width="12.22" height="17.60" fill="#d3d3e9"/>
<rect x="102.30" y="510.41" width="12.22" height="17.60" fill="#f18787"/>
<rect x="113.52" y="510.41" width="12.22" height="17.60" fill="#f18787"/>
<rect x="124.73" y="510.41" width="12.22" height="17.60" fill="#f18787"/>
<rect x="135.95" y="510.41" width="12.22" height="17.60" fill="#d3d3e9"/>
<rect x="147.17" y="510.41" width="12.22" height="17.60" fill="#e1e1f0"/>
<rect x="158.38" y="510.41" width="12.22" height="17.60" fill="#d8d8eb"/>
<rect x="169.60" y="510.41" width="12.22" height="17.60" fill="#d8d8eb"/>
<rect x="180.82" y="510.41" width="12.22" height="17.60" fill="#cbcbe5"/>
<rect x="192.03" y="510.41" width="12.22" height="17.60" fill="#cbcbe5"/>
<rect x="203.25" y="510.41" width="12.22" height="17.60" fill="#e1e1f0"/>
<rect x="214.47" y="510.41" width="12.22" height="17.60" fill="#e1e1f0"/>
<rect x="225.68" y="510.41" width="12.22" height="17.60" fill="#d8d8eb"/>
<rect x="236.90" y="510.41" width="12.22" height="17.60" fill="#ef8080"/>
<rect x="248.12" y="510.41" width="12.22" height="17.60" fill="#ef8080"/>
<rect x="259.33" y="510.41" width="12.22" height="17.60" fill="#eb7171"/>
<rect x="270.55" y="510.41" width="12.22" height="17.60" fill="#cbcbe5"/>
<rect x="281.77" y="510.41" width="12.22" height="17.60" fill="#cbcbe5"/>
<rect x="292.98" y="510.41" width="11.22" height="17.60" fill="#cbcbe5"/>
<rect x="35.00" y="527.01" width="12.22" height="17.60" fill="#eeeef6"/>
<rect x="46.22" y="527.01" width="12.22" height="17.60" fill="#e5e5f2"/>
<rect x="57.43" y="527.01" width="12.22" height="17.60" fill="#e5e5f2"/>
<rect x="68.65" y="527.01" width="12.22" height="17.60" fill="#e9e9f4"/>
<rect x="79.87" y="527.01" width="12.22" height="17.60" fill="#ffffff"/>
<rect x="91.08" y="527.01" width="12.22" height="17.60" fill="#eeeef6"/>
<rect x="102.30" y="527.01" width="12.22" height="17.60" fill="#da3535"/>
<rect x="113.52" y="527.01" width="12.22" height="17.60" fill="#f18787"/>
<rect x="124.73" y="527.01" width="12.22" height="17.60" fill="#dc3d3d"/>
<rect x="135.95" y="527.01" width="12.22" height="17.60" fill="#fbfbfd"/>
<rect x="147.17" y="527.01" width="12.22" height="17.60" fill="#e5e5f2"/>
<rect x="158.38" y="527.01" width="12.22" height="17.60" fill="#eeeef6"/>
<rect x="169.60" y="527.01" width="12.22" height="17.60" fill="#d8d8eb"/>
<rect x="180.82" y="527.01" width="12.22" height="17.60" fill="#f2f2f8"/>
<rect x="192.03" y="527.01" width="12.22" height="17.60" fill="#e1e1f0"/>
<rect x="203.25" y="527.01" width="12.22" height="17.60" fill="#f2f2f8"/>
<rect x="214.47" y="527.01" width="12.22" height="17.60" fill="#e1e1f0"/>
<rect x="225.68" y="527.01" width="12.22" height="17.60" fill="#d3d3e9"/>
<rect x="236.90" y="527.01" width="12.22" height="17.60" fill="#d8d8eb"/>
<rect x="248.12" y="527.01" width="12.22" height="17.60" fill="#d8d8eb"/>
<rect x="259.33" y="527.01" width="12.22" height="17.60" fill="#e1e1f0"/>
<rect x="270.55" y="527.01" width="12.22" height="17.60" fill="#fbfbfd"/>
<rect x="281.77" y="527.01" width="12.22" height="17.60" fill="#e9e9f4"/>
<rect x="292.98" y="527.01" width="11.22" height="17.60" fill="#dcdcee"/>
<rect x="35.00" y="543.60" width="12.22" height="16.60" fill="#d8d8eb"/>
<rect x="46.22" y="543.60" width="12.22" height="16.60" fill="#cbcbe5"/>
<rect x="57.43" y="543.60" width="12.22" height="16.60" fill="#c2c2e1"/>
<rect x="68.65" y="543.60" width="12.22" height="16.60" fill="#eeeef6"/>
<rect x="79.87" y="543.60" width="12.22" height="16.60" fill="#d8d8eb"/>
<rect x="91.08" y="543.60" width="12.22" height="16.60" fill="#e1e1f0"/>
<rect x="102.30" y="543.60" width="12.22" height="16.60" fill="#e76262"/>
<rect x="113.52" y="543.60" width="12.22" height="16.60" fill="#ef8080"/>
<rect x="124.73" y="543.60" width="12.22" height="16.60" fill="#f28f8f"/>
<rect x="135.95" y="543.60" width="12.22" height="16.60" fill="#b1b1d8"/>
<rect x="147.17" y="543.60" width="12.22" height="16.60" fill="#d3d3e9"/>
<rect x="158.38" y="543.60" width="12.22" height="16.60" fill="#eeeef6"/>
<rect x="169.60" y="543.60" width="12.22" height="16.60" fill="#f6f6fb"/>
<rect x="180.82" y="543.60" width="12.22" height="16.60" fill="#d8d8eb"/>
<rect x="192.03" y="543.60" width="12.22" height="16.60" fill="#eeeef6"/>
<rect x="203.25" y="543.60" width="12.22" height="16.60" fill="#a8a8d4"/>
<rect x="214.47" y="543.60" width="12.22" height="16.60" fill="#d8d8eb"/>
<rect x="225.68" y="543.60" width="12.22" height="16.60" fill="#d3d3e9"/>
<rect x="236.90" y="543.60" width="12.22" height="16.60" fill="#fee9e9"/>
<rect x="248.12" y="543.60" width="12.22" height="16.60" fill="#ef8080"/>
<rect x="259.33" y="543.60" width="12.22" height="16.60" fill="#f18787"/>
<rect x="270.55" y="543.60" width="12.22" height="16.60" fill="#9797cb"/>
<rect x="281.77" y="543.60" width="12.22" height="16.60" fill="#d3d3e9"/>
<rect x="292.98" y="543.60" width="11.22" height="16.60" fill="#eeeef6"/>
<rect x="35.00" y="127.1" width="34.25" height="13.5" fill="#ee7942"/>
<rect x="68.65" y="127.1" width="34.25" height="13.5" fill="#e93ab0"/>
<rect x="102.30" y="127.1" width="34.25" height="13.5" fill="#ffd700"/>
<rect x="135.95" y="127.1" width="34.25" height="13.5" fill="#0000ff"/>
<rect x="169.60" y="127.1" width="67.90" height="13.5" fill="#9a32cd"/>
<rect x="236.90" y="127.1" width="34.25" height="13.5" fill="#ff0000"/>
<rect x="270.55" y="127.1" width="33.65" height="13.5" fill="#000000"/>
<rect x="1.5" y="145.30" width="13.4" height="316.32" fill="#ff0000"/>
<rect x="1.5" y="460.62" width="13.4" height="83.98" fill="#ffff00"/>
<rect x="1.5" y="543.60" width="13.4" height="16.60" fill="#000000"/>
<rect x="17.6" y="145.30" width="13.4" height="17.60" fill="#00008b"/>
<rect x="17.6" y="161.90" width="13.4" height="17.60" fill="#008b00"/>
<rect x="17.6" y="178.49" width="13.4" height="34.19" fill="#7d2e8f"/>
<rect x="17.6" y="211.68" width="13.4" height="17.60" fill="#8b6914"/>
<rect x="17.6" y="228.28" width="13.4" height="34.19" fill="#7d2e8f"/>
<rect x="17.6" y="261.47" width="13.4" height="17.60" fill="#90ee90"/>
<rect x="17.6" y="278.07" width="13.4" height="34.19" fill="#000000"/>
<rect x="17.6" y="311.26" width="13.4" height="34.19" fill="#4d4d4d"/>
<rect x="17.6" y="344.45" width="13.4" height="34.19" fill="#999999"/>
<rect x="17.6" y="377.64" width="13.4" height="17.60" fill="#ffa500"/>
<rect x="17.6" y="394.24" width="13.4" height="17.60" fill="#000000"/>
<rect x="17.6" y="410.84" width="13.4" height="17.60" fill="#e5e5e5"/>
<rect x="17.6" y="427.43" width="13.4" height="34.19" fill="#8b6914"/>
<rect x="17.6" y="460.62" width="13.4" height="17.60" fill="#737373"/>
<rect x="17.6" y="477.22" width="13.4" height="17.60" fill="#ff6eb4"/>
<rect x="17.6" y="493.82" width="13.4" height="17.60" fill="#f5dfe2"/>
<rect x="17.6" y="510.41" width="13.4" height="17.60" fill="#e9967a"/>
<rect x="17.6" y="527.01" width="13.4" height="17.60" fill="#00ee00"/>
<rect x="17.6" y="543.60" width="13.4" height="16.60" fill="#000000"/>
<text x="309.3" y="158.30" class="rl">TYROBP</text>
<text x="309.3" y="174.89" class="rl">MICB</text>
<text x="309.3" y="191.49" class="rl">CD58</text>
<text x="309.3" y="208.09" class="rl">CD59</text>
<text x="309.3" y="224.68" class="rl">CD48</text>
<text x="309.3" y="241.28" class="rl">ITGAL</text>
<text x="309.3" y="257.87" class="rl">ITGB2</text>
<text x="309.3" y="274.47" class="rl">HLA−E</text>
<text x="309.3" y="291.07" class="rl">ITGAL</text>
<text x="309.3" y="307.66" class="rl">ITGB2</text>
<text x="309.3" y="324.26" class="rl">ITGB2</text>
<text x="309.3" y="340.85" class="rl">HLA−E</text>
<text x="309.3" y="357.45" class="rl">CD80</text>
<text x="309.3" y="374.05" class="rl">CD86</text>
<text x="309.3" y="390.64" class="rl">FAS</text>
<text x="309.3" y="407.24" class="rl">ICAM1</text>
<text x="309.3" y="423.83" class="rl">LGALS1</text>
<text x="309.3" y="440.43" class="rl">CD244</text>
<text x="309.3" y="457.03" class="rl">IL27</text>
<text x="309.3" y="473.62" class="rl">HLA−E</text>
<text x="309.3" y="490.22" class="rl">HLA−C</text>
<text x="309.3" y="506.81" class="rl">HLA−C</text>
<text x="309.3" y="523.41" class="rl">COL1A1</text>
<text x="309.3" y="540.01" class="rl">CDH1</text>
<text x="309.3" y="556.60" class="rl">ITGAM</text>
<text x="309.3" y="138.5" class="ctl">Cell Type</text>
<path d="M51.83,125.00V117.30H63.04V125.00 M40.61,125.00V113.90H57.43V117.30 M85.47,125.00V117.30H96.69V125.00 M74.26,125.00V108.70H91.08V117.30 M49.02,113.90V64.70H82.67V108.70 M119.12,125.00V115.80H130.34V125.00 M107.91,125.00V113.10H124.73V115.80 M152.78,125.00V118.50H163.99V125.00 M141.56,125.00V115.40H158.38V118.50 M186.43,125.00V117.20H197.64V125.00 M175.21,125.00V116.30H192.03V117.20 M220.07,125.00V116.20H231.29V125.00 M208.86,125.00V115.50H225.68V116.20 M183.62,116.30V101.30H217.27V115.50 M149.97,115.40V79.50H200.45V101.30 M253.72,125.00V118.90H264.94V125.00 M242.51,125.00V114.50H259.33V118.90 M287.38,125.00V116.80H298.59V125.00 M276.16,125.00V112.60H292.98V116.80 M250.92,114.50V77.40H284.57V112.60 M175.21,79.50V68.10H267.75V77.40 M116.32,113.10V62.00H221.48V68.10 M65.85,64.70V53.70H168.90V62.00" fill="none" stroke="#1a1a1a" stroke-width="1.4"/>
<defs><linearGradient id="cb" x1="0" y1="0" x2="0" y2="1"><stop offset="0.000" stop-color="#d42424"/><stop offset="0.025" stop-color="#d82f2f"/><stop offset="0.050" stop-color="#db3a3a"/><stop offset="0.075" stop-color="#df4545"/><stop offset="0.100" stop-color="#e25050"/><stop offset="0.125" stop-color="#e55b5b"/><stop offset="0.150" stop-color="#e86666"/><stop offset="0.175" stop-color="#eb7171"/><stop offset="0.200" stop-color="#ee7c7c"/><stop offset="0.225" stop-color="#f08787"/><stop offset="0.250" stop-color="#f39292"/><stop offset="0.275" stop-color="#f59c9c"/><stop offset="0.300" stop-color="#f7a7a7"/><stop offset="0.325" stop-color="#f9b2b2"/><stop offset="0.350" stop-color="#fabdbd"/><stop offset="0.375" stop-color="#fbc8c8"/><stop offset="0.400" stop-color="#fdd3d3"/><stop offset="0.425" stop-color="#fedede"/><stop offset="0.450" stop-color="#fee9e9"/><stop offset="0.475" stop-color="#fff4f4"/><stop offset="0.500" stop-color="#ffffff"/><stop offset="0.525" stop-color="#f2f2f9"/><stop offset="0.550" stop-color="#e5e5f2"/><stop offset="0.575" stop-color="#d9d9ec"/><stop offset="0.600" stop-color="#cccce6"/><stop offset="0.625" stop-color="#bfbfdf"/><stop offset="0.650" stop-color="#b2b2d9"/><stop offset="0.675" stop-color="#a6a6d3"/><stop offset="0.700" stop-color="#9999cc"/><stop offset="0.725" stop-color="#8c8cc6"/><stop offset="0.750" stop-color="#8080c0"/><stop offset="0.775" stop-color="#7373b9"/><stop offset="0.800" stop-color="#6666b3"/><stop offset="0.825" stop-color="#5959ac"/><stop offset="0.850" stop-color="#4c4ca6"/><stop offset="0.875" stop-color="#4040a0"/><stop offset="0.900" stop-color="#333399"/><stop offset="0.925" stop-color="#262693"/><stop offset="0.950" stop-color="#1a1a8d"/><stop offset="0.975" stop-color="#0d0d86"/><stop offset="1.000" stop-color="#000080"/></linearGradient></defs>
<rect x="374.3" y="125.7" width="13.5" height="206.1" fill="url(#cb)"/>
<text x="393.3" y="163.50" class="cbl">2</text>
<text x="393.3" y="198.70" class="cbl">1</text>
<text x="393.3" y="233.90" class="cbl">0</text>
<text x="393.3" y="269.10" class="cbl">−1</text>
<text x="393.3" y="304.30" class="cbl">−2</text>
<text x="420.3" y="71.5" class="lt">Cell Type</text>
<rect x="419.2" y="76.50" width="16.3" height="16.75" fill="#000000"/>
<text x="439.6" y="88.72" class="ll">SUDHL2</text>
<rect x="419.2" y="92.95" width="16.3" height="16.75" fill="#0000ff"/>
<text x="439.6" y="105.17" class="ll">SUDHL4</text>
<rect x="419.2" y="109.40" width="16.3" height="16.75" fill="#ff0000"/>
<text x="439.6" y="121.62" class="ll">Raji</text>
<rect x="419.2" y="125.85" width="16.3" height="16.75" fill="#ee7942"/>
<text x="439.6" y="138.07" class="ll">L540</text>
<rect x="419.2" y="142.30" width="16.3" height="16.75" fill="#9a32cd"/>
<text x="439.6" y="154.53" class="ll">Jurkat</text>
<rect x="419.2" y="158.75" width="16.3" height="16.75" fill="#ffd700"/>
<text x="439.6" y="170.97" class="ll">Hut78</text>
<rect x="419.2" y="175.20" width="16.3" height="16.75" fill="#e93ab0"/>
<text x="439.6" y="187.42" class="ll">HH</text>
<text x="420.3" y="209.6" class="lt">Action on NK cells</text>
<rect x="419.2" y="214.20" width="16.3" height="16.70" fill="#ff0000"/>
<text x="439.6" y="226.40" class="ll">activation</text>
<rect x="419.2" y="230.60" width="16.3" height="16.70" fill="#ffff00"/>
<text x="439.6" y="242.80" class="ll">inhibition</text>
<rect x="419.2" y="247.00" width="16.3" height="16.70" fill="#000000"/>
<text x="439.6" y="259.20" class="ll">unknown</text>
<text x="420.3" y="280.5" class="lt">NK receptors</text>
<rect x="419.2" y="285.50" width="16.3" height="16.73" fill="#00008b"/>
<text x="439.6" y="297.71" class="ll">NCR1</text>
<rect x="419.2" y="301.93" width="16.3" height="16.73" fill="#008b00"/>
<text x="439.6" y="314.14" class="ll">KLRK1</text>
<rect x="419.2" y="318.36" width="16.3" height="16.73" fill="#00ee00"/>
<text x="439.6" y="330.57" class="ll">KLRG1</text>
<rect x="419.2" y="334.79" width="16.3" height="16.73" fill="#90ee90"/>
<text x="439.6" y="347.00" class="ll">KLRC2</text>
<rect x="419.2" y="351.22" width="16.3" height="16.73" fill="#000000"/>
<text x="439.6" y="363.44" class="ll">ICAM1</text>
<rect x="419.2" y="367.65" width="16.3" height="16.73" fill="#4d4d4d"/>
<text x="439.6" y="379.86" class="ll">ICAM2</text>
<rect x="419.2" y="384.08" width="16.3" height="16.73" fill="#737373"/>
<text x="439.6" y="396.29" class="ll">KLRD1</text>
<rect x="419.2" y="400.51" width="16.3" height="16.73" fill="#ff6eb4"/>
<text x="439.6" y="412.72" class="ll">KIR2DL1</text>
<rect x="419.2" y="416.94" width="16.3" height="16.73" fill="#f5dfe2"/>
<text x="439.6" y="429.15" class="ll">KIR2DL2</text>
<rect x="419.2" y="433.37" width="16.3" height="16.73" fill="#999999"/>
<text x="439.6" y="445.58" class="ll">CD28</text>
<rect x="419.2" y="449.80" width="16.3" height="16.73" fill="#8b6914"/>
<text x="439.6" y="462.01" class="ll">CD48</text>
<rect x="419.2" y="466.23" width="16.3" height="16.73" fill="#7d2e8f"/>
<text x="439.6" y="478.44" class="ll">CD2</text>
<rect x="419.2" y="482.66" width="16.3" height="16.73" fill="#e9967a"/>
<text x="439.6" y="494.87" class="ll">LAIR−1</text>
<rect x="419.2" y="499.09" width="16.3" height="16.73" fill="#ffa500"/>
<text x="439.6" y="511.31" class="ll">FASLG</text>
<rect x="419.2" y="515.52" width="16.3" height="16.73" fill="#e5e5e5"/>
<text x="439.6" y="527.74" class="ll">SPN</text>
<text x="170.3" y="14.2" class="tt" text-anchor="middle">Heatmap for All Controls with FDR &lt; 0.05</text>
<text x="170.0" y="39.9" class="tt" text-anchor="middle">that contain NK92 Ligands</text>
<text transform="translate(3.1,21.4) rotate(90)" class="an">Action on NK cells</text>
<text transform="translate(19.3,56.9) rotate(90)" class="an">NK receptors</text>
</svg>
</body></html>
